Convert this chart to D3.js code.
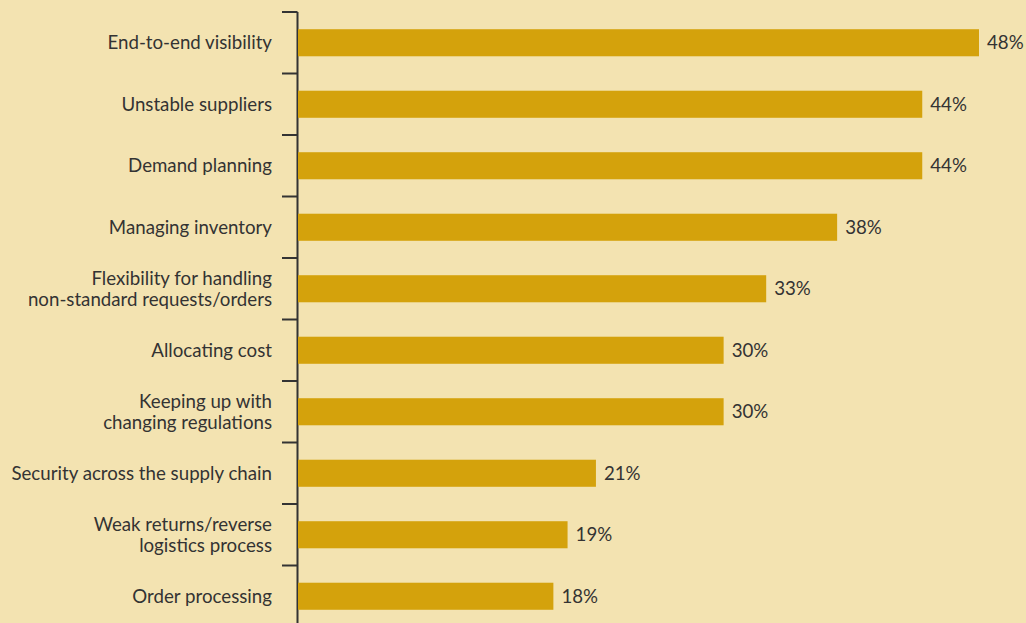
<!DOCTYPE html>
<html>
<head>
<meta charset="utf-8">
<script src="https://cdn.jsdelivr.net/npm/d3@7"></script>
<style>
  html, body { margin: 0; padding: 0; background: #f3e3b1; }
  svg { display: block; }
</style>
</head>
<body>
<div id="chart"></div>
<script>
const categories = [
  'End-to-end visibility',
  'Unstable suppliers',
  'Demand planning',
  'Managing inventory',
  'Flexibility for handling\nnon-standard requests/orders',
  'Allocating cost',
  'Keeping up with\nchanging regulations',
  'Security across the supply chain',
  'Weak returns/reverse\nlogistics process',
  'Order processing'
];
const values = [48, 44, 44, 38, 33, 30, 30, 21, 19, 18];

const width = 1026, height = 623;
const axisX = 297.5;

const svg = d3.select('#chart').append('svg')
  .attr('width', width)
  .attr('height', height);

svg.append('rect')
  .attr('width', width)
  .attr('height', height)
  .attr('fill', '#f3e3b1');

const x = d3.scaleLinear()
  .domain([0, 48])
  .range([298, 979]);

const y = d3.scaleBand()
  .domain(categories)
  .range([12, 627])
  .paddingInner(0.56)
  .paddingOuter(0.28);

// band boundary ticks
const bounds = d3.range(categories.length + 1).map(i => 12 + i * y.step());
svg.append('line')
  .attr('x1', axisX).attr('x2', axisX)
  .attr('y1', 12).attr('y2', height)
  .attr('stroke', '#333').attr('stroke-width', 2);
svg.selectAll('.tick-mark')
  .data(bounds)
  .enter().append('line')
  .attr('class', 'tick-mark')
  .attr('x1', 282).attr('x2', axisX)
  .attr('y1', d => d).attr('y2', d => d)
  .attr('stroke', '#333').attr('stroke-width', 2);

svg.selectAll('.bar')
  .data(values)
  .enter().append('rect')
  .attr('class', 'bar')
  .attr('x', x(0))
  .attr('y', (d, i) => y(categories[i]))
  .attr('width', d => x(d) - x(0))
  .attr('height', y.bandwidth())
  .attr('fill', '#d4a20c');

svg.selectAll('.value')
  .data(values)
  .enter().append('text')
  .attr('class', 'value')
  .attr('x', d => x(d) + 8)
  .attr('y', (d, i) => y(categories[i]) + y.bandwidth() / 2)
  .attr('dy', '0.35em')
  .attr('font-family', 'Lato, sans-serif')
  .attr('font-size', 18.7)
  .attr('fill', '#333')
  .text(d => d + '%');

const labels = svg.selectAll('.label')
  .data(categories)
  .enter().append('text')
  .attr('class', 'label')
  .attr('text-anchor', 'end')
  .attr('font-family', 'Lato, sans-serif')
  .attr('font-size', 18.7)
  .attr('fill', '#333');

labels.each(function(d) {
  const lines = d.split('\n');
  const cy = y(d) + y.bandwidth() / 2;
  const lh = 21.5;
  d3.select(this).selectAll('tspan')
    .data(lines)
    .enter().append('tspan')
    .attr('x', 272)
    .attr('y', (l, j) => cy + (j - (lines.length - 1) / 2) * lh)
    .attr('dy', '0.35em')
    .text(l => l);
});
</script>
</body>
</html>
